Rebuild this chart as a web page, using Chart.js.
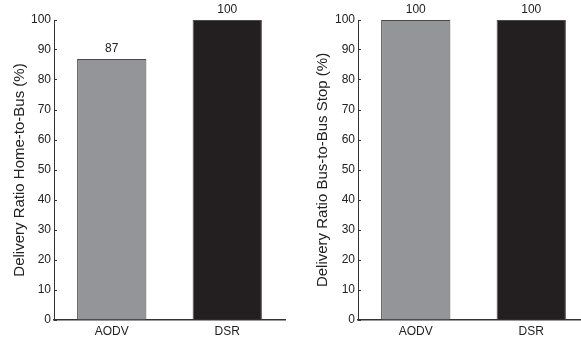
<!DOCTYPE html>
<html lang="en">
  <head>
    <meta charset="UTF-8" />
    <script src="https://cdn.jsdelivr.net/npm/chart.js"></script>
    <title>Delivery Ratio</title>
    <style>
      html, body { margin: 0; padding: 0; overflow: hidden; background: #fff; }
      #wrap { position: relative; width: 581px; height: 340px; overflow: hidden; }
      #left { position: absolute; left: 0; top: 0; }
      #right { position: absolute; left: 290px; top: 0; }
    </style>
  </head>
  <body>
    <div id="wrap">
      <canvas id="left" width="290" height="340"></canvas>
      <canvas id="right" width="300" height="340"></canvas>
    </div>

    <script>
      // data
      const categories = ["AODV", "DSR"];
      const homeToBus = [87, 100];
      const busToBusStop = [100, 100];
      const barColors = ["#939598", "#231f20"];

      Chart.defaults.font.family = "'Liberation Sans', Arial, sans-serif";
      Chart.defaults.color = "#222";

      // value labels above the bars
      const valueLabels = {
        id: "valueLabels",
        afterDatasetsDraw(chart) {
          const ctx = chart.ctx;
          ctx.save();
          ctx.font = "12px 'Liberation Sans', Arial, sans-serif";
          ctx.fillStyle = "#222";
          ctx.textAlign = "center";
          ctx.textBaseline = "middle";
          chart.getDatasetMeta(0).data.forEach((bar, i) => {
            ctx.fillText(chart.data.datasets[0].data[i], bar.x, bar.y - 10);
          });
          ctx.restore();
        },
      };

      function createChart(id, values, title, axisWidth, titlePad, padRight) {
        return new Chart(document.getElementById(id), {
          type: "bar",
          data: {
            labels: categories,
            datasets: [
              {
                data: values,
                backgroundColor: barColors,
                borderColor: "#4a4a4a",
                borderWidth: 1,
                categoryPercentage: 1,
                barPercentage: 0.6,
              },
            ],
          },
          options: {
            responsive: false,
            animation: false,
            layout: { padding: { top: 20, right: padRight, left: 0, bottom: 0 } },
            plugins: { legend: { display: false }, tooltip: { enabled: false } },
            scales: {
              x: {
                grid: { display: false, drawTicks: false },
                border: { display: true, color: "#333", width: 1.5 },
                ticks: { padding: 4, font: { size: 12 } },
                afterFit: (scale) => { scale.height = 20; },
              },
              y: {
                min: 0,
                max: 100,
                ticks: { stepSize: 10, padding: 6, font: { size: 12 } },
                grid: {
                  drawOnChartArea: false,
                  drawTicks: true,
                  tickLength: -3,
                  color: "#333",
                },
                border: { display: true, color: "#333", width: 1 },
                title: {
                  display: true,
                  text: title,
                  font: { size: 15 },
                  color: "#222",
                  padding: { top: titlePad, bottom: 0 },
                },
                afterFit: (scale) => { scale.width = axisWidth; },
              },
            },
          },
          plugins: [valueLabels],
        });
      }

      createChart("left", homeToBus, "Delivery Ratio Home-to-Bus (%)", 54, 11, 5);
      createChart("right", busToBusStop, "Delivery Ratio Bus-to-Bus Stop (%)", 68, 24, 1);
    </script>
  </body>
</html>
